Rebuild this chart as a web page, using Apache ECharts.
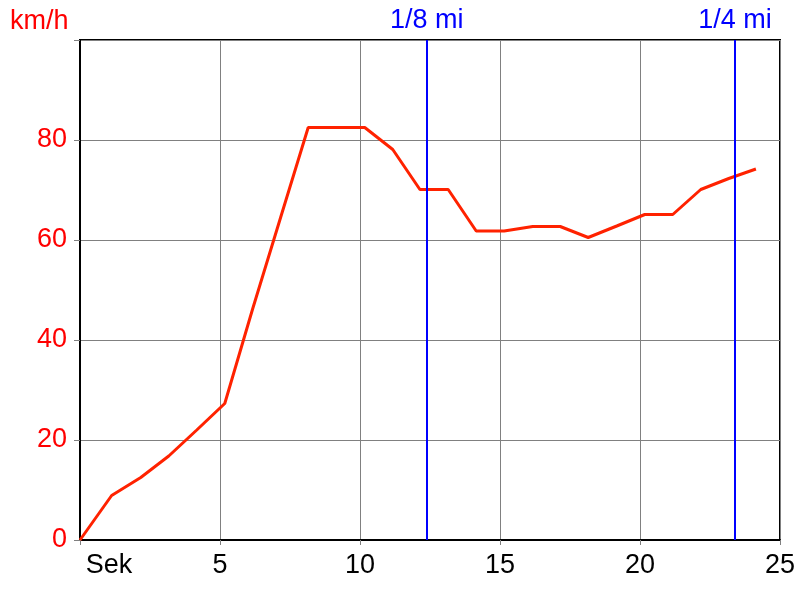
<!DOCTYPE html>
<html>
<head>
<meta charset="utf-8">
<script src="https://cdn.jsdelivr.net/npm/echarts@6/dist/echarts.min.js"></script>
<style>
html,body{margin:0;padding:0;background:#fff;}
#chart{width:800px;height:600px;}
</style>
</head>
<body>
<div id="chart"></div>
<script>
var timeSec = [0, 1.13, 2.17, 3.17, 4.17, 5.17, 6.17, 7.17, 8.15, 9.17, 10.17, 11.17, 12.14, 13.15, 14.15, 15.15, 16.17, 17.15, 18.15, 19.17, 20.17, 21.17, 22.17, 23.17, 24.14];
var speedKmh = [0, 8.9, 12.5, 16.8, 22.0, 27.3, 46.3, 64.6, 82.5, 82.5, 82.5, 78.1, 70.1, 70.1, 61.8, 61.8, 62.7, 62.7, 60.5, 62.8, 65.1, 65.1, 70.1, 72.3, 74.2];
var distanceLabels = ['1/8 mi', '1/4 mi'];
var distanceTimes = [12.38, 23.39];
var xTickLabelZero = 'Sek';
var yUnit = 'km/h';

var font = '"Liberation Sans", Arial, sans-serif';
var chart = echarts.init(document.getElementById('chart'), null, {renderer: 'canvas'});
chart.setOption({
  animation: false,
  backgroundColor: '#ffffff',
  title: {
    text: yUnit, left: 5, top: 3,
    textStyle: {color: '#ff0000', fontSize: 27, fontWeight: 'normal', fontFamily: font}
  },
  grid: {left: 80, right: 20, top: 40, bottom: 60, show: true, borderColor: '#000', borderWidth: 2},
  xAxis: {
    type: 'value', min: 0, max: 25, interval: 5,
    axisLine: {show: true, onZero: false, lineStyle: {color: '#000', width: 2}},
    axisTick: {show: true, length: 5, lineStyle: {color: '#808080', width: 1}},
    splitLine: {show: true, lineStyle: {color: '#808080', width: 1}},
    axisLabel: {
      color: '#000', fontSize: 27, fontFamily: font, margin: 12,
      formatter: function (v) { return v === 0 ? '{s|' + xTickLabelZero + '}' : String(v); },
      rich: {s: {color: '#000', fontSize: 27, fontFamily: font, padding: [0, 0, 0, 58]}}
    }
  },
  yAxis: {
    type: 'value', min: 0, max: 100, interval: 20,
    axisLine: {show: true, onZero: false, lineStyle: {color: '#000', width: 2}},
    axisTick: {show: true, length: 6, lineStyle: {color: '#808080', width: 1}},
    splitLine: {show: true, lineStyle: {color: '#808080', width: 1}},
    axisLabel: {
      color: '#ff0000', fontSize: 27, fontFamily: font, margin: 13,
      formatter: function (v) { return v === 100 ? '' : String(v); }
    }
  },
  series: [{
    type: 'line',
    data: timeSec.map(function (t, i) { return [t, speedKmh[i]]; }),
    showSymbol: false, symbol: 'none',
    lineStyle: {color: '#ff2200', width: 3},
    z: 3,
    markLine: {
      silent: true, symbol: ['none', 'none'],
      lineStyle: {color: '#0000ff', width: 2, type: 'solid'},
      label: {show: true, position: 'end', color: '#0000ff', fontSize: 27, fontFamily: font, distance: 6,
        formatter: function (p) { return p.name; }},
      data: distanceTimes.map(function (t, i) { return {name: distanceLabels[i], xAxis: t}; })
    }
  }]
});
</script>
</body>
</html>
